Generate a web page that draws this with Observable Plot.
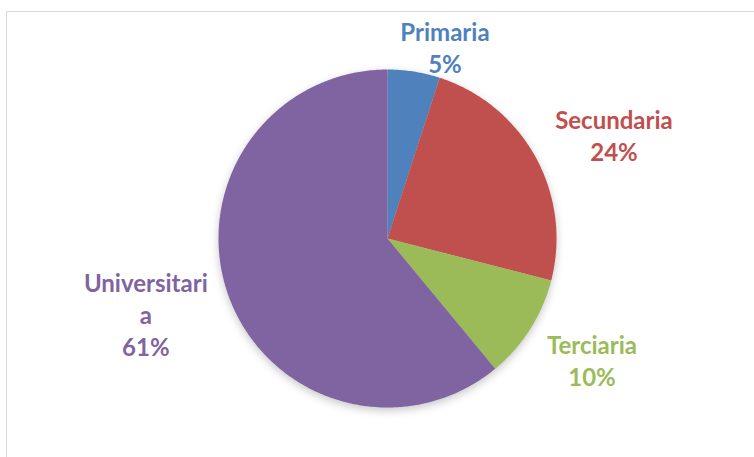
<!DOCTYPE html>
<html><head><meta charset="utf-8">
<script src="https://cdn.jsdelivr.net/npm/d3@7"></script>
<script src="https://cdn.jsdelivr.net/npm/@observablehq/plot@0.6"></script>
<style>
html,body{margin:0;padding:0;background:#fff;width:754px;height:457px;overflow:hidden;}
#frame{position:absolute;left:6px;top:11px;width:800px;height:500px;border:1.5px solid #D9D9D9;box-sizing:border-box;}
#chart{position:absolute;left:0;top:0;}
</style></head>
<body><div id="frame"></div><div id="chart"></div>
<script>
const categories = ["Primaria", "Secundaria", "Terciaria", "Universitaria"];
const values = [5, 24, 10, 61];
const labelLines = [["Primaria", "5%"], ["Secundaria", "24%"], ["Terciaria", "10%"], ["Universitari", "a", "61%"]];
const colors = ["#4F81BD", "#C0504D", "#9BBB59", "#8064A2"];

// layout
const W = 754, H = 457, cx = 387, cy = 238, R = 169;
const labelAnchor = [[0.34, 1.12], [1.34, 0.60], [1.21, -0.73], [-1.43, -0.46]]; // label centers in radius units
const lineGap = 0.19;

const pie = d3.pie().sort(null).value(d => d)(values);
const slices = [];
pie.forEach((p, i) => {
  const n = Math.max(2, Math.ceil((p.endAngle - p.startAngle) / 0.01));
  slices.push({cat: categories[i], x: 0, y: 0});
  for (let k = 0; k <= n; k++) {
    const a = p.startAngle + (p.endAngle - p.startAngle) * k / n;
    slices.push({cat: categories[i], x: Math.sin(a), y: Math.cos(a)});
  }
  slices.push({cat: categories[i], x: 0, y: 0});
});

const labels = [];
labelLines.forEach((lines, i) => {
  const [lx, ly] = labelAnchor[i];
  const top = ly + lineGap * (lines.length - 1) / 2;
  lines.forEach((t, j) => labels.push({cat: categories[i], text: t, x: lx, y: top - j * lineGap}));
});

const chart = Plot.plot({
  width: W, height: H, margin: 0,
  x: {domain: [-1, 1], range: [cx - R, cx + R], axis: null},
  y: {domain: [-1, 1], range: [cy + R, cy - R], axis: null},
  color: {domain: categories, range: colors},
  style: {background: "transparent", overflow: "visible"},
  marks: [
    Plot.line(slices, {x: "x", y: "y", z: "cat", fill: "cat", stroke: "none", curve: "linear", className: "slices"}),
    Plot.text(labels, {x: "x", y: "y", text: "text", fill: "cat", fontSize: 24, fontWeight: "bold",
      fontFamily: "Lato, 'Open Sans', sans-serif", textAnchor: "middle", lineAnchor: "middle"})
  ]
});
d3.select(chart).select(".slices").style("filter", "drop-shadow(0px 3px 4px rgba(0,0,0,0.22))");
document.getElementById("chart").appendChild(chart);
</script>
</body></html>
